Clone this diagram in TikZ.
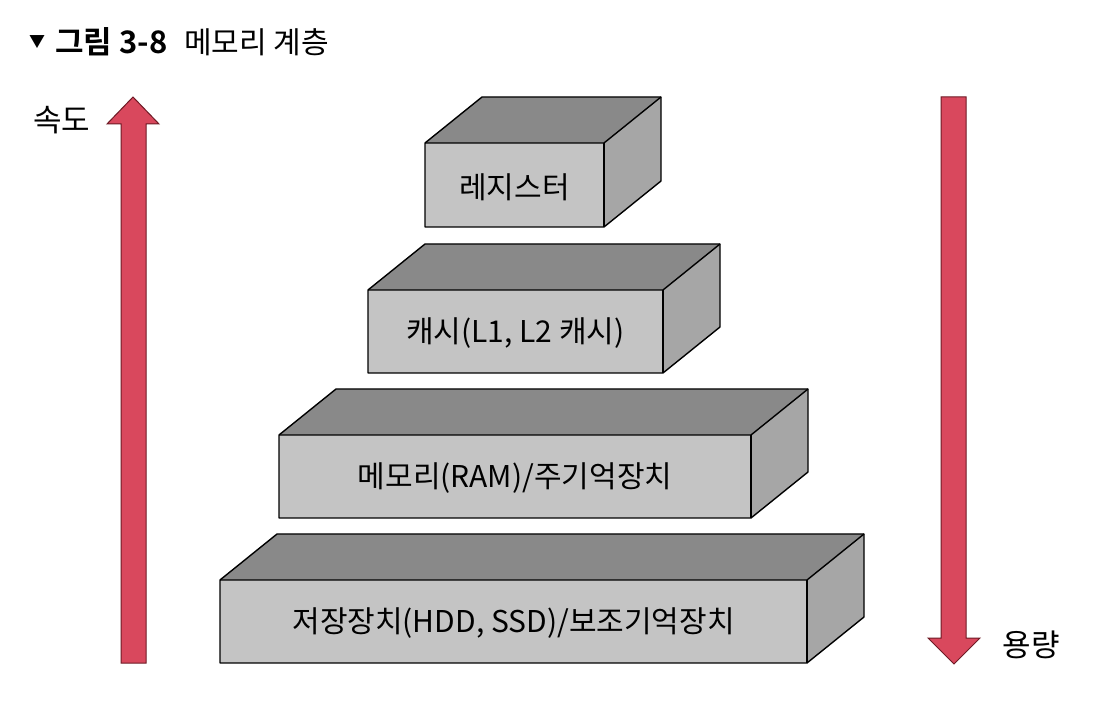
\documentclass[tikz,border=0pt]{standalone}
\usepackage{fontspec}
\setmainfont{Noto Sans CJK KR}
\newfontfamily\krbold{Noto Sans CJK KR Bold}
\definecolor{frontc}{HTML}{C4C4C4}
\definecolor{topc}{HTML}{898989}
\definecolor{sidec}{HTML}{A6A6A6}
\definecolor{arrowc}{HTML}{D9485D}
\definecolor{arrowedge}{HTML}{6E1A25}
\tikzset{
  face/.style={draw=black, line width=1.4pt, line join=round},
  blocklabel/.style={font=\fontsize{30}{32}\selectfont, inner sep=0pt},
  bigarrow/.style={fill=arrowc, draw=arrowedge, line width=1pt, line join=miter},
  sidelabel/.style={font=\fontsize{31}{33}\selectfont, inner sep=0pt},
}
% name, x1, y1 (front top-left), x2, y2 (front bottom-right), text
\newcommand{\memblock}[6]{%
  \fill[topc] (#2,#3) -- ({#2+57},{#3-46}) -- ({#4+57},{#3-46}) -- (#4,#3) -- cycle;
  \fill[sidec] (#4,#3) -- ({#4+57},{#3-46}) -- ({#4+57},{#5-46}) -- (#4,#5) -- cycle;
  \fill[frontc] (#2,#3) rectangle (#4,#5);
  \draw[face] (#2,#3) -- ({#2+57},{#3-46}) -- ({#4+57},{#3-46}) -- ({#4+57},{#5-46}) -- (#4,#5) -- (#2,#5) -- cycle;
  \draw[face] (#2,#3) -- (#4,#3) -- ({#4+57},{#3-46});
  \draw[face] (#4,#3) -- (#4,#5);
  \node[blocklabel] (#1) at ({(#2+#4)/2},{(#3+#5)/2+2}) {#6};
}
\begin{document}
\begin{tikzpicture}[x=1pt,y=-1pt]
\useasboundingbox[fill=white] (0,0) rectangle (1096,708);
% title
\node[anchor=west, inner sep=0pt, font=\fontsize{16}{17}\selectfont] (tri) at (29,42) {▼};
\node[anchor=west, inner sep=0pt, font=\krbold\fontsize{31}{33}\selectfont] (fig) at (55,42) {그림 3-8};
\node[anchor=west, inner sep=0pt, font=\fontsize{30}{32}\selectfont] (ttl) at (184,42) {메모리 계층};
% blocks
\memblock{reg}{425}{143}{604}{227}{레지스터}
\memblock{cache}{368}{290}{663}{373}{캐시(L1, L2 캐시)}
\memblock{ram}{279}{435}{751}{518}{메모리(RAM)/주기억장치}
\memblock{disk}{220}{580}{807}{663}{저장장치(HDD, SSD)/보조기억장치}
% left arrow (speed, up)
\draw[bigarrow] (121,663) -- (121,124) -- (107,124) -- (133,97) -- (159,124) -- (146,124) -- (146,663) -- cycle;
\node[sidelabel] (speed) at (62,120) {속도};
% right arrow (capacity, down)
\draw[bigarrow] (941,97) -- (941,638) -- (928,638) -- (954,664) -- (980,638) -- (966,638) -- (966,97) -- cycle;
\node[sidelabel] (cap) at (1031,645) {용량};
\end{tikzpicture}
\end{document}
